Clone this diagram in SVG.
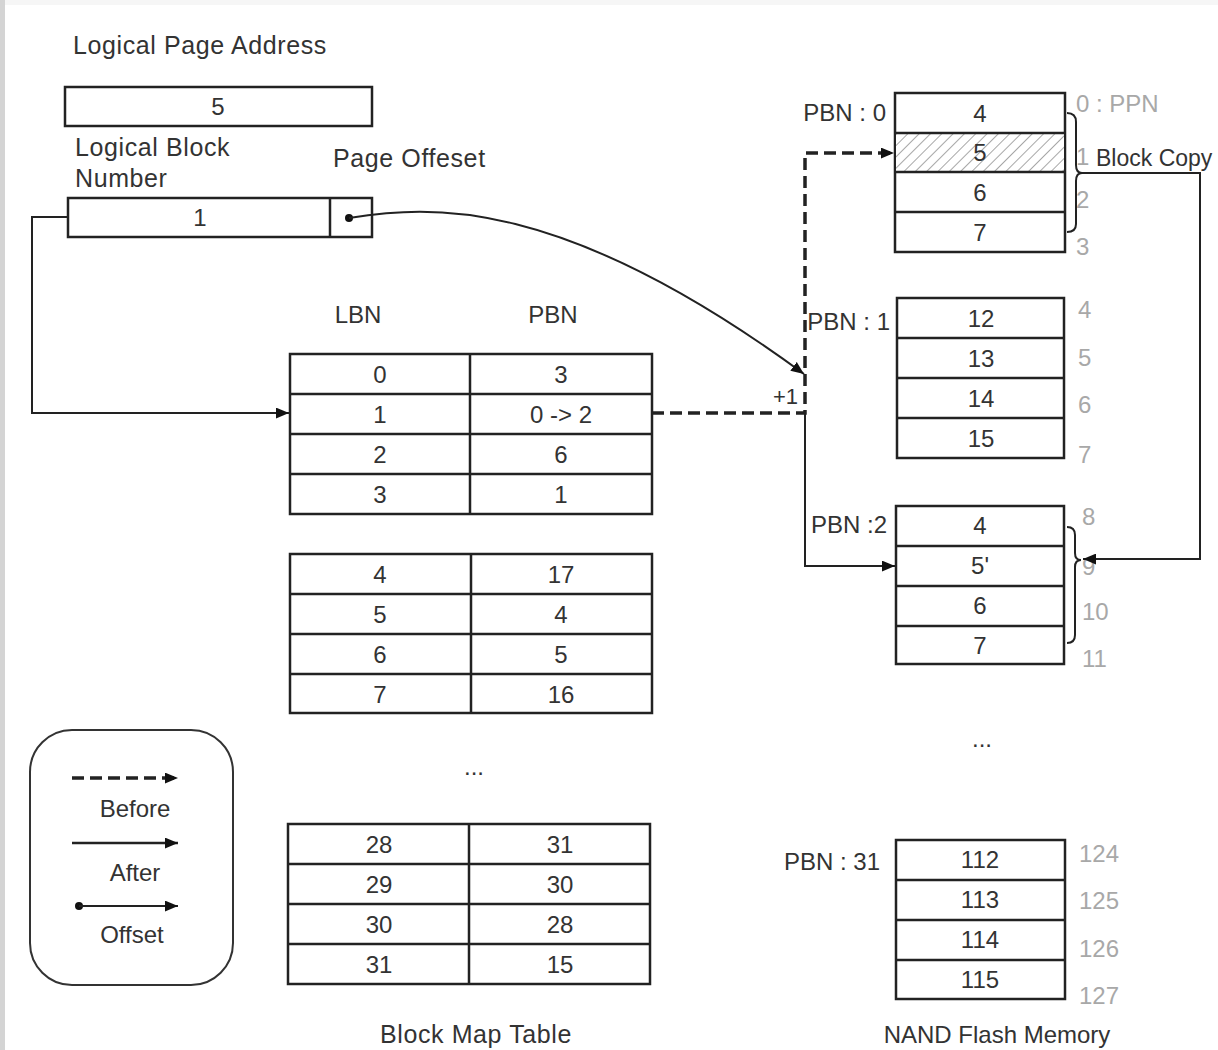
<svg xmlns="http://www.w3.org/2000/svg" width="1218" height="1050" viewBox="0 0 1218 1050">
<defs>
<style>
text{font-family:"Liberation Sans",Arial,sans-serif;font-size:24px;fill:#333}
.c{text-anchor:middle;dominant-baseline:central}
.r{text-anchor:end}
.g{fill:#a8a8a8}
.lb{font-size:25px;letter-spacing:0.6px}
.box{fill:#fff;stroke:#222;stroke-width:2.5}
.ln{stroke:#222;stroke-width:2.5;fill:none}
.conn{stroke:#222;stroke-width:2;fill:none}
.dash{stroke:#222;stroke-width:3.5;fill:none;stroke-dasharray:12 6}
</style>
<marker id="ah" viewBox="0 0 12 10" refX="12" refY="5" markerWidth="13" markerHeight="11" markerUnits="userSpaceOnUse" orient="auto">
<path d="M0,0 L12,5 L0,10 Z" fill="#111"/>
</marker>
<pattern id="hatch" width="8" height="8" patternUnits="userSpaceOnUse" patternTransform="rotate(45)">
<rect width="8" height="8" fill="#fff"/>
<line x1="0" y1="0" x2="0" y2="8" stroke="#8a8a8a" stroke-width="1.5"/>
</pattern>
</defs>
<rect width="1218" height="1050" fill="#fff"/>
<rect x="0" y="0" width="1218" height="5" fill="#f6f6f6"/>
<rect x="0" y="0" width="5" height="1050" fill="#d4d4d4"/>

<g id="lpa">
<text class="lb" x="73" y="54">Logical Page Address</text>
<rect class="box" x="65" y="87" width="307" height="39"/>
<text class="c" x="218" y="106">5</text>
</g>
<g id="lbn-field">
<text class="lb" x="75" y="156">Logical Block</text>
<text class="lb" x="75" y="187">Number</text>
<text class="lb" x="333" y="167">Page Offeset</text>
<rect class="box" x="68" y="198" width="304" height="39"/>
<line class="ln" x1="330" y1="198" x2="330" y2="237"/>
<text class="c" x="200" y="217">1</text>
<circle cx="349" cy="218" r="4" fill="#111"/>
</g>

<g id="map-table">
<text class="c" x="358" y="314">LBN</text>
<text class="c" x="553" y="314">PBN</text>
<rect class="box" x="290" y="354" width="362" height="160"/>
<path class="ln" d="M290,394H652M290,434H652M290,474H652M470,354V514"/>
<text class="c" x="380" y="374">0</text><text class="c" x="561" y="374">3</text>
<text class="c" x="380" y="414">1</text><text class="c" x="561" y="414">0 -&gt; 2</text>
<text class="c" x="380" y="454">2</text><text class="c" x="561" y="454">6</text>
<text class="c" x="380" y="494">3</text><text class="c" x="561" y="494">1</text>

<rect class="box" x="290" y="554" width="362" height="159"/>
<path class="ln" d="M290,594H652M290,634H652M290,674H652M471,554V713"/>
<text class="c" x="380" y="574">4</text><text class="c" x="561" y="574">17</text>
<text class="c" x="380" y="614">5</text><text class="c" x="561" y="614">4</text>
<text class="c" x="380" y="654">6</text><text class="c" x="561" y="654">5</text>
<text class="c" x="380" y="694">7</text><text class="c" x="561" y="694">16</text>

<text class="c" x="474" y="766">...</text>

<rect class="box" x="288" y="824" width="362" height="160"/>
<path class="ln" d="M288,864H650M288,904H650M288,944H650M469,824V984"/>
<text class="c" x="379" y="844">28</text><text class="c" x="560" y="844">31</text>
<text class="c" x="379" y="884">29</text><text class="c" x="560" y="884">30</text>
<text class="c" x="379" y="924">30</text><text class="c" x="560" y="924">28</text>
<text class="c" x="379" y="964">31</text><text class="c" x="560" y="964">15</text>
<text class="c lb" x="476" y="1034">Block Map Table</text>
</g>

<g id="legend">
<rect x="30" y="730" width="203" height="255" rx="42" ry="42" fill="#fff" stroke="#333" stroke-width="2"/>
<line class="dash" x1="72" y1="778" x2="178" y2="778" marker-end="url(#ah)"/>
<text class="c" x="135" y="808">Before</text>
<line class="conn" x1="72" y1="843" x2="178" y2="843" style="stroke-width:2.5" marker-end="url(#ah)"/>
<text class="c" x="135" y="872">After</text>
<circle cx="79" cy="906" r="4" fill="#111"/>
<line class="conn" x1="79" y1="906" x2="178" y2="906" marker-end="url(#ah)"/>
<text class="c" x="132" y="934">Offset</text>
</g>

<g id="pbn0">
<text class="r" x="886" y="121">PBN : 0</text>
<rect class="box" x="895" y="93" width="170" height="159"/>
<rect x="896" y="133" width="168" height="39" fill="url(#hatch)"/>
<path class="ln" d="M895,133H1065M895,172H1065M895,212H1065"/>
<text class="c" x="980" y="113">4</text>
<text class="c" x="980" y="152">5</text>
<text class="c" x="980" y="192">6</text>
<text class="c" x="980" y="232">7</text>
<text class="g" x="1076" y="112">0 : PPN</text>
<text class="g" x="1076" y="165">1</text>
<text class="g" x="1076" y="208">2</text>
<text class="g" x="1076" y="255">3</text>
<text x="1096" y="166" style="font-size:23px">Block Copy</text>
<path class="conn" d="M1067,113 Q1076,113 1076,122 V165 Q1076,173 1082,173 Q1076,173 1076,181 V224 Q1076,232 1067,232"/>
</g>

<g id="pbn1">
<text class="r" x="890" y="330">PBN : 1</text>
<rect class="box" x="897" y="298" width="167" height="160"/>
<path class="ln" d="M897,338H1064M897,378H1064M897,418H1064"/>
<text class="c" x="981" y="318">12</text>
<text class="c" x="981" y="358">13</text>
<text class="c" x="981" y="398">14</text>
<text class="c" x="981" y="438">15</text>
<text class="g" x="1078" y="318">4</text>
<text class="g" x="1078" y="366">5</text>
<text class="g" x="1078" y="413">6</text>
<text class="g" x="1078" y="463">7</text>
</g>

<g id="pbn2">
<text class="r" x="887" y="533">PBN :2</text>
<rect class="box" x="896" y="506" width="168" height="158"/>
<path class="ln" d="M896,546H1064M896,586H1064M896,626H1064"/>
<text class="c" x="980" y="525">4</text>
<text class="c" x="980" y="565">5'</text>
<text class="c" x="980" y="605">6</text>
<text class="c" x="980" y="645">7</text>
<text class="g" x="1082" y="525">8</text>
<text class="g" x="1082" y="575">9</text>
<text class="g" x="1082" y="620">10</text>
<text class="g" x="1082" y="667">11</text>
<path class="conn" d="M1067,527 Q1075,527 1075,535 V553 Q1075,560 1081,560 Q1075,560 1075,567 V635 Q1075,643 1067,643"/>
</g>

<text class="c" x="982" y="738">...</text>

<g id="pbn31">
<text class="r" x="880" y="870">PBN : 31</text>
<rect class="box" x="896" y="840" width="169" height="159"/>
<path class="ln" d="M896,880H1065M896,920H1065M896,960H1065"/>
<text class="c" x="980" y="859">112</text>
<text class="c" x="980" y="899">113</text>
<text class="c" x="980" y="939">114</text>
<text class="c" x="980" y="979">115</text>
<text class="g" x="1079" y="862">124</text>
<text class="g" x="1079" y="909">125</text>
<text class="g" x="1079" y="957">126</text>
<text class="g" x="1079" y="1004">127</text>
<text class="c" x="997" y="1034">NAND Flash Memory</text>
</g>

<g id="connectors">
<path class="conn" d="M68,217 H32 V413 H289" marker-end="url(#ah)"/>
<path class="conn" d="M349,218 C430,205 560,195 804,374" marker-end="url(#ah)"/>
<path class="dash" d="M652,413 H805 V153 H894" marker-end="url(#ah)"/>
<path class="conn" d="M805,413 V566 H895" marker-end="url(#ah)"/>
<path class="conn" d="M1082,173 H1200 V559 H1083" marker-end="url(#ah)"/>
<text x="773" y="404" style="font-size:22px">+1</text>
</g>
</svg>
